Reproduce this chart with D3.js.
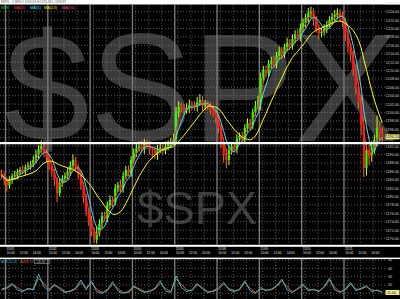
<!DOCTYPE html>
<html>
<head>
<meta charset="utf-8">
<script src="https://cdn.jsdelivr.net/npm/d3@7"></script>
<style>
  html, body { margin: 0; padding: 0; background: #000; }
  svg { display: block; font-family: "Liberation Sans", Arial, sans-serif; }
</style>
</head>
<body>
<div id="chart"></div>
<script>
var symbol = "$SPX";
var titleText = "$SPX - 5 MIN  O:1194.63 H:1195.28 L:1193.87";
var legendNames = ["SPX", "MA(3)", "MA(5)", "MA(13)", "MA(50)"];
var dayLabels = ["11/01", "11/02", "11/03", "11/04", "11/05", "11/08", "11/09", "11/10", "11/11"];
var timeLabels = ["10:00", "12:00", "14:00"];
var timeMinutes = [30, 150, 270]; // minutes after the 9:30 open
var priceTicks = [1226, 1224, 1222, 1220, 1218, 1216, 1214, 1212, 1210, 1208, 1206, 1204, 1202, 1200,
  1198, 1196, 1194, 1192, 1190, 1188, 1186, 1184, 1182, 1180, 1178, 1176, 1174, 1172, 1170];
var adxTicks = [50, 40, 30, 20, 10];
var supportLevel = 1192.7;
var firstOpen = 1185.6;

// closes: 2 bars of the previous session, then 16 bars per day
var closes = [
  1185.1, 1183.9,
  1182.7, 1183.9, 1184.9, 1185.1, 1185.8, 1186.3, 1186.1, 1187.0, 1187.3, 1187.7, 1188.7, 1189.9, 1191.3, 1192.0, 1190.6, 1189.2,
  1187.3, 1185.8, 1183.9, 1180.8, 1183.2, 1184.2, 1184.9, 1185.8, 1187.3, 1188.7, 1187.0, 1185.4, 1182.7, 1179.7, 1176.3, 1174.2,
  1171.6, 1169.7, 1171.3, 1173.5, 1175.4, 1174.8, 1178.0, 1179.2, 1178.6, 1182.0, 1182.7, 1181.9, 1184.9, 1186.3, 1185.6, 1188.7,
  1190.4, 1191.6, 1192.0, 1191.3, 1192.7, 1192.3, 1191.2, 1191.1, 1190.2, 1191.3, 1191.6, 1190.9, 1192.0, 1192.5, 1193.0, 1193.7,
  1200.1, 1201.3, 1201.1, 1200.6, 1201.1, 1201.8, 1201.6, 1201.3, 1202.5, 1203.0, 1201.6, 1202.0, 1201.6, 1200.6, 1199.9, 1198.7,
  1196.3, 1193.0, 1189.9, 1188.7, 1191.1, 1192.0, 1191.4, 1193.7, 1194.4, 1193.8, 1196.3, 1197.5, 1196.9, 1200.1, 1201.6, 1203.0,
  1208.2, 1210.1, 1209.4, 1211.6, 1212.3, 1211.5, 1213.5, 1214.6, 1213.8, 1215.6, 1216.6, 1215.9, 1217.5, 1218.6, 1217.9, 1220.1,
  1221.3, 1222.5, 1223.7, 1223.9, 1222.0, 1220.1, 1218.9, 1219.2, 1219.9, 1220.8, 1222.0, 1222.7, 1223.2, 1223.7, 1223.0, 1221.6,
  1218.5, 1215.6, 1213.7, 1210.1, 1206.1, 1202.5, 1197.0, 1186.8, 1191.1, 1189.9, 1191.6, 1193.5, 1196.3, 1195.1, 1194.2
];
// wick length above / below the body, in index points
var upperWick = [
  0.8, 0.6,
  0.7, 0.9, 0.6, 1.0, 0.8, 0.7, 1.1, 0.6, 0.9, 0.8, 1.0, 1.2, 0.9, 1.4, 0.8, 0.7,
  0.9, 0.6, 0.8, 0.7, 1.2, 0.9, 0.8, 1.0, 1.1, 1.3, 0.7, 0.6, 0.8, 0.7, 0.9, 0.8,
  1.2, 1.0, 1.5, 1.1, 0.9, 1.0, 0.8, 1.1, 0.9, 1.0, 0.8, 1.2, 0.9, 1.0, 1.1, 0.9,
  1.0, 0.9, 1.1, 1.3, 1.0, 0.8, 0.9, 0.7, 0.8, 1.0, 0.9, 0.8, 1.1, 0.9, 1.0, 1.2,
  1.2, 1.4, 1.0, 0.9, 1.1, 1.3, 0.9, 1.0, 1.2, 1.4, 0.9, 1.0, 0.8, 0.9, 1.0, 0.8,
  1.0, 0.9, 1.1, 1.5, 1.2, 1.0, 0.9, 1.1, 0.8, 1.0, 0.9, 1.1, 1.0, 0.8, 1.2, 1.0,
  1.3, 1.0, 1.1, 0.9, 1.0, 1.2, 0.9, 1.1, 1.0, 0.8, 1.2, 0.9, 1.1, 1.0, 1.2, 1.1,
  1.1, 1.0, 1.2, 1.3, 0.9, 1.0, 0.8, 0.9, 1.1, 1.0, 0.9, 1.0, 1.2, 1.1, 0.9, 1.0,
  1.0, 1.2, 0.9, 1.1, 1.3, 1.2, 1.5, 2.0, 1.4, 1.3, 1.6, 1.2, 3.0, 1.5, 1.4
];
var lowerWick = [
  0.9, 1.2,
  1.5, 0.8, 0.9, 0.6, 1.0, 0.7, 0.8, 1.1, 0.6, 0.9, 0.7, 0.8, 1.0, 0.9, 1.2, 1.0,
  1.0, 1.1, 1.4, 2.2, 0.8, 0.9, 0.7, 0.8, 0.9, 0.7, 1.0, 1.2, 1.1, 1.3, 1.0, 1.2,
  1.0, 0.8, 0.9, 0.8, 1.0, 0.7, 0.9, 0.8, 1.1, 0.7, 0.9, 0.8, 1.0, 0.7, 0.8, 0.9,
  0.8, 1.0, 0.9, 0.8, 1.1, 1.0, 1.2, 2.0, 1.3, 1.5, 1.0, 0.9, 0.8, 1.0, 0.9, 0.8,
  0.8, 1.2, 1.0, 1.1, 0.9, 1.2, 1.0, 0.9, 1.1, 1.0, 1.2, 0.9, 1.0, 1.1, 0.9, 1.2,
  1.2, 1.5, 1.8, 2.0, 1.2, 1.0, 0.9, 1.1, 1.0, 0.8, 1.2, 0.9, 1.0, 0.8, 1.0, 0.9,
  2.5, 1.2, 1.0, 0.9, 1.1, 0.8, 1.0, 0.9, 1.2, 0.8, 1.0, 1.1, 0.9, 1.0, 0.8, 1.0,
  1.0, 0.9, 1.1, 1.2, 1.3, 1.1, 1.5, 1.0, 0.9, 1.0, 0.8, 1.1, 0.9, 1.0, 1.2, 1.3,
  1.5, 1.3, 1.6, 1.4, 1.8, 1.5, 2.5, 2.2, 1.8, 2.5, 1.6, 1.4, 1.5, 1.8, 1.6
];
// lower panel, one value every second bar starting at the first bar
var adx = [15, 17, 22, 14, 12, 16, 14, 33, 18, 13, 21, 15, 11, 13, 16, 26, 14, 25, 12, 10,
  14, 24, 13, 10, 12, 19, 14, 11, 13, 16, 25, 13, 11, 31, 17, 12, 14, 22, 15, 11,
  13, 16, 23, 14, 12, 15, 25, 13, 10, 17, 13, 15, 19, 27, 14, 11, 16, 21, 13, 15,
  12, 18, 28, 14, 11, 15, 23, 13, 16, 19, 12, 14, 11];
var adxr = [14, 16, 20, 17, 13, 15, 15, 28, 22, 15, 19, 17, 12, 12, 15, 23, 17, 22, 15, 11,
  13, 21, 16, 11, 11, 17, 16, 12, 12, 15, 22, 16, 12, 27, 21, 14, 13, 20, 17, 12,
  12, 15, 21, 16, 13, 14, 23, 16, 11, 15, 14, 14, 18, 25, 18, 12, 15, 19, 15, 14,
  13, 17, 26, 17, 12, 14, 21, 15, 15, 18, 14, 13, 12];

var W = 400, H = 299;
var plotRight = 385, plotTop = 4.5, plotBottom = 244.5;
var lowTop = 259, lowBottom = 299;

var svg = d3.select("#chart").append("svg").attr("width", W).attr("height", H);
svg.append("rect").attr("width", W).attr("height", H).attr("fill", "#000");

// scales
var x = d3.scaleLinear().domain([0, 144]).range([5.5, 386.3]);
var y = d3.scaleLinear().domain([1170, 1226]).range([238.5, 3.3]);
var yLow = d3.scaleLinear().domain([10, 50]).range([293.3, 260]);
function timeX(day, minutes) { return x(16 * day + minutes / 390 * 16); }

// watermark
svg.append("text").text(symbol).attr("x", 4).attr("y", 141)
  .attr("font-size", 154).attr("fill", "#3b3b3b");
svg.append("text").text(symbol).attr("x", 137).attr("y", 224)
  .attr("font-size", 47).attr("fill", "#3b3b3b");

// grid
var grid = svg.append("g");
grid.selectAll(".hgrid").data(priceTicks).enter().append("line")
  .attr("x1", 0).attr("x2", plotRight)
  .attr("y1", function(d) { return y(d); }).attr("y2", function(d) { return y(d); })
  .attr("stroke", "#8a8a8a").attr("stroke-width", 0.7).attr("stroke-dasharray", "1,2");
grid.selectAll(".lgrid").data(adxTicks).enter().append("line")
  .attr("x1", 0).attr("x2", plotRight)
  .attr("y1", function(d) { return yLow(d); }).attr("y2", function(d) { return yLow(d); })
  .attr("stroke", "#8a8a8a").attr("stroke-width", 0.7).attr("stroke-dasharray", "1,2");

[[plotTop, plotBottom], [lowTop, lowBottom]].forEach(function(band) {
  dayLabels.forEach(function(d, i) {
    grid.append("line").attr("x1", x(16 * i)).attr("x2", x(16 * i))
      .attr("y1", band[0]).attr("y2", band[1])
      .attr("stroke", "#7a7a7a").attr("stroke-width", 1.4);
    timeMinutes.forEach(function(m) {
      var tx = timeX(i, m);
      grid.append("line").attr("x1", tx).attr("x2", tx)
        .attr("y1", band[0]).attr("y2", band[1])
        .attr("stroke", "#8a8a8a").attr("stroke-width", 0.7).attr("stroke-dasharray", "1,2");
    });
  });
});

// candles
var bars = closes.map(function(c, i) {
  var o = i === 0 ? firstOpen : closes[i - 1];
  return { idx: i - 2, open: o, close: c,
    high: Math.max(o, c) + upperWick[i], low: Math.min(o, c) - lowerWick[i] };
});

var defs = svg.append("defs");
defs.append("clipPath").attr("id", "clipMain")
  .append("rect").attr("x", 0).attr("y", plotTop).attr("width", plotRight).attr("height", plotBottom - plotTop);
defs.append("clipPath").attr("id", "clipLow")
  .append("rect").attr("x", 0).attr("y", lowTop).attr("width", plotRight).attr("height", lowBottom - lowTop);

var main = svg.append("g").attr("clip-path", "url(#clipMain)");
function barColor(d) { return d.close >= d.open ? "#22ff00" : "#ff1a1a"; }

main.selectAll(".wick").data(bars).enter().append("line")
  .attr("x1", function(d) { return x(d.idx + 0.5); })
  .attr("x2", function(d) { return x(d.idx + 0.5); })
  .attr("y1", function(d) { return y(d.high); })
  .attr("y2", function(d) { return y(d.low); })
  .attr("stroke", function(d) { return d.close >= d.open ? "#c8ff20" : "#ff6a00"; })
  .attr("stroke-width", 1);
main.selectAll(".body").data(bars).enter().append("rect")
  .attr("x", function(d) { return x(d.idx + 0.5) - 1.1; })
  .attr("width", 2.2)
  .attr("y", function(d) { return y(Math.max(d.open, d.close)); })
  .attr("height", function(d) { return Math.max(0.8, y(Math.min(d.open, d.close)) - y(Math.max(d.open, d.close))); })
  .attr("fill", barColor);

// moving averages of the closes
function sma(n) {
  return closes.map(function(c, i) {
    return { idx: i - 2, v: d3.mean(closes.slice(Math.max(0, i - n + 1), i + 1)) };
  });
}
var maLine = d3.line().x(function(d) { return x(d.idx + 0.5); }).y(function(d) { return y(d.v); });
[[3, "#ff2a2a"], [5, "#3fe0f0"], [13, "#ffff00"]].forEach(function(m) {
  main.append("path").attr("d", maLine(sma(m[0])))
    .attr("fill", "none").attr("stroke", m[1]).attr("stroke-width", 1);
});

// lower panel
var low = svg.append("g").attr("clip-path", "url(#clipLow)");
var lowLine = d3.line().x(function(d, i) { return x(2 * i - 2 + 0.5); }).y(function(d) { return yLow(d); });
low.append("path").attr("d", lowLine(adxr)).attr("fill", "none").attr("stroke", "#e0602a").attr("stroke-width", 1);
low.append("path").attr("d", lowLine(adx)).attr("fill", "none").attr("stroke", "#38b8d0").attr("stroke-width", 1);

// separators and support line
svg.append("rect").attr("x", 0).attr("y", 0).attr("width", W).attr("height", plotTop).attr("fill", "#fff");
svg.append("rect").attr("x", 0).attr("y", 244.8).attr("width", W).attr("height", 2).attr("fill", "#fff");
svg.append("rect").attr("x", 0).attr("y", 257.6).attr("width", W).attr("height", 1.5).attr("fill", "#fff");
svg.append("line").attr("x1", 0).attr("x2", W).attr("y1", y(supportLevel)).attr("y2", y(supportLevel))
  .attr("stroke", "#fff").attr("stroke-width", 2.4);

// title and legends
svg.append("text").text(titleText).attr("x", 1).attr("y", 3.4).attr("font-size", 3.2).attr("fill", "#555");
var legendColors = ["#00e000", "#ff3030", "#40e0f0", "#e0e000", "#ff40b0"];
var legendX = [1, 14, 30, 44, 62];
legendNames.forEach(function(t, i) {
  svg.append("text").text(t).attr("x", legendX[i]).attr("y", 9.2).attr("font-size", 4)
    .attr("fill", legendColors[i]);
});
var lastAdx = adx[adx.length - 1], lastAdxr = adxr[adxr.length - 1];
svg.append("text").text("ADX " + lastAdx.toFixed(2)).attr("x", 1).attr("y", 263).attr("font-size", 3.4)
  .attr("fill", "#38b8d0");
svg.append("text").text("ADXR " + lastAdxr).attr("x", 20).attr("y", 263).attr("font-size", 3.2)
  .attr("fill", "#e0602a");
svg.append("rect").attr("x", 34.5).attr("y", 259.8).attr("width", 15).attr("height", 3.9)
  .attr("fill", "none").attr("stroke", "#bbb").attr("stroke-width", 0.5);
svg.append("text").text("14,14").attr("x", 37).attr("y", 262.9).attr("font-size", 3.2).attr("fill", "#ccc");

// right axis
var fmt = d3.format(".2f");
svg.selectAll(".ptick").data(priceTicks).enter().append("text")
  .text(function(d) { return fmt(d); })
  .attr("x", 385.8).attr("y", function(d) { return y(d) + 1.4; })
  .attr("font-size", 3.7).attr("fill", "#d4d4d4");
svg.selectAll(".ltick").data(adxTicks).enter().append("text")
  .text(function(d) { return d; })
  .attr("x", 388).attr("y", function(d) { return yLow(d) + 1.4; })
  .attr("font-size", 3.7).attr("fill", "#d4d4d4");

var lastClose = closes[closes.length - 1];
svg.append("rect").attr("x", 385.5).attr("y", y(lastClose) - 2.5).attr("width", 14).attr("height", 5).attr("fill", "#f2f08a");
svg.append("text").text(fmt(lastClose)).attr("x", 385.8).attr("y", y(lastClose) + 1.4)
  .attr("font-size", 3.7).attr("fill", "#000");
svg.append("rect").attr("x", 385.5).attr("y", yLow(lastAdx) - 2.5).attr("width", 14).attr("height", 5).attr("fill", "#f2f08a");
svg.append("text").text(fmt(lastAdx)).attr("x", 387).attr("y", yLow(lastAdx) + 1.4)
  .attr("font-size", 3.7).attr("fill", "#000");

// time axis
dayLabels.forEach(function(d, i) {
  svg.append("text").text(d).attr("x", x(16 * i) + 1).attr("y", 250).attr("font-size", 3.2)
    .attr("fill", "#e0e0e0");
  timeLabels.forEach(function(t, j) {
    svg.append("text").text(t).attr("x", timeX(i, timeMinutes[j]) - 2).attr("y", 254.3).attr("font-size", 3.2)
      .attr("fill", "#e0e0e0");
  });
});
</script>
</body>
</html>
